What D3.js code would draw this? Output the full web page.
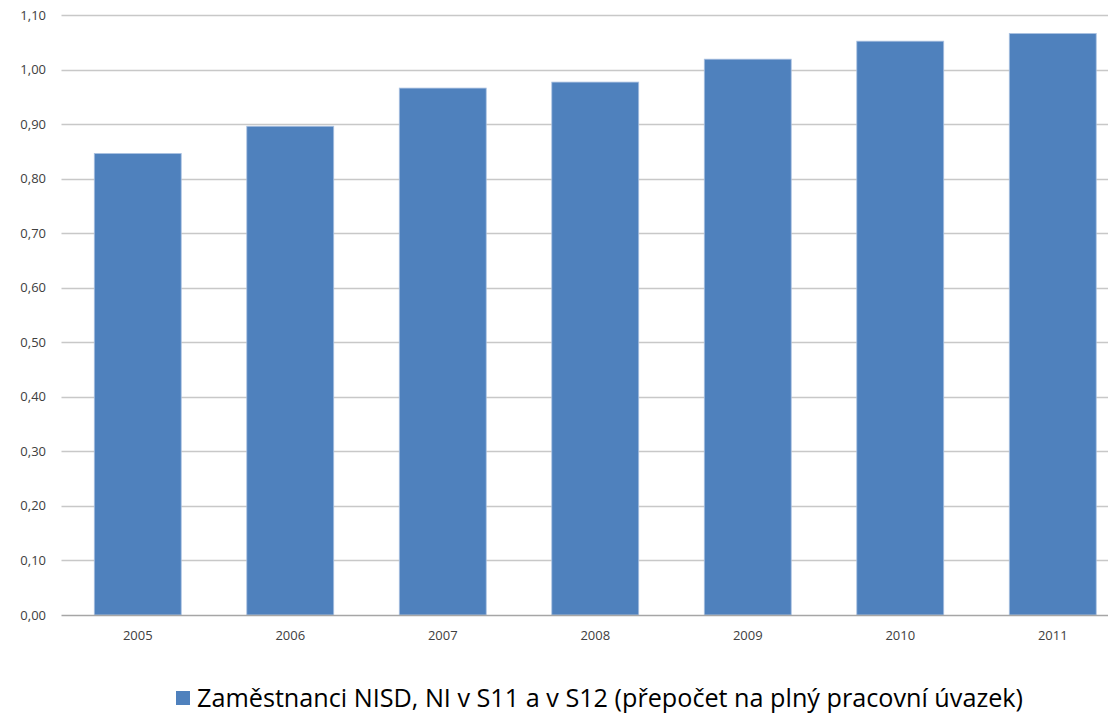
<!DOCTYPE html>
<html>
<head>
<meta charset="utf-8">
<script src="https://cdn.jsdelivr.net/npm/d3@7"></script>
<style>
  body { margin: 0; background: #fff; }
  svg { display: block; font-family: "Open Sans", "Liberation Sans", sans-serif; }
</style>
</head>
<body>
<div id="chart"></div>
<script>
var years = ['2005', '2006', '2007', '2008', '2009', '2010', '2011'];
var values = [0.846, 0.896, 0.966, 0.977, 1.019, 1.052, 1.066];
var yTicks = [0, 0.1, 0.2, 0.3, 0.4, 0.5, 0.6, 0.7, 0.8, 0.9, 1.0, 1.1];
var seriesName = 'Zaměstnanci NISD, NI v S11 a v S12 (přepočet na plný pracovní úvazek)';

var width = 1108, height = 717;

var svg = d3.select('#chart')
    .append('svg')
    .attr('width', width)
    .attr('height', height);

// plot runs past the right edge, like the cropped original
var x = d3.scaleBand()
    .domain(years)
    .range([61.5, 1129])
    .paddingInner(0.43)
    .paddingOuter(0.215);

var y = d3.scaleLinear()
    .domain([0, 1.1])
    .range([615, 15]);

var fmt = function(d) { return d3.format('.2f')(d).replace('.', ','); };

// gridlines
svg.append('g')
    .selectAll('line')
    .data(yTicks.slice(1))
    .enter()
    .append('line')
        .attr('x1', 61.5)
        .attr('x2', 1129)
        .attr('y1', function(d) { return Math.round(y(d)) + 0.5; })
        .attr('y2', function(d) { return Math.round(y(d)) + 0.5; })
        .attr('stroke', '#c8c8c8')
        .attr('stroke-width', 1.3);

// y labels
svg.append('g')
    .selectAll('text')
    .data(yTicks)
    .enter()
    .append('text')
        .attr('x', 46)
        .attr('y', function(d) { return y(d); })
        .attr('dy', '0.35em')
        .attr('text-anchor', 'end')
        .attr('font-size', 13)
        .attr('fill', '#404040')
        .text(fmt);

// bars
svg.append('g')
    .selectAll('rect')
    .data(values)
    .enter()
    .append('rect')
        .attr('x', function(d, i) { return x(years[i]); })
        .attr('width', x.bandwidth())
        .attr('y', function(d) { return y(d); })
        .attr('height', function(d) { return y(0) - y(d); })
        .attr('fill', '#4f81bd')
        .attr('stroke', '#a9c0e0')
        .attr('stroke-width', 0.8);

// baseline
svg.append('line')
    .attr('x1', 61.5)
    .attr('x2', 1129)
    .attr('y1', y(0) + 0.5)
    .attr('y2', y(0) + 0.5)
    .attr('stroke', '#a6a6a6')
    .attr('stroke-width', 1.3);

// x labels
svg.append('g')
    .selectAll('text')
    .data(years)
    .enter()
    .append('text')
        .attr('x', function(d) { return x(d) + x.bandwidth() / 2; })
        .attr('y', 640)
        .attr('text-anchor', 'middle')
        .attr('font-size', 13)
        .attr('fill', '#404040')
        .text(function(d) { return d; });

// legend
var legend = svg.append('g');
legend.append('rect')
    .attr('x', 176)
    .attr('y', 691)
    .attr('width', 14)
    .attr('height', 14)
    .attr('fill', '#4f81bd');
legend.append('text')
    .attr('x', 197)
    .attr('y', 707)
    .attr('font-size', 25)
    .attr('fill', '#000')
    .attr('textLength', 826)
    .attr('lengthAdjust', 'spacingAndGlyphs')
    .text(seriesName);
</script>
</body>
</html>
